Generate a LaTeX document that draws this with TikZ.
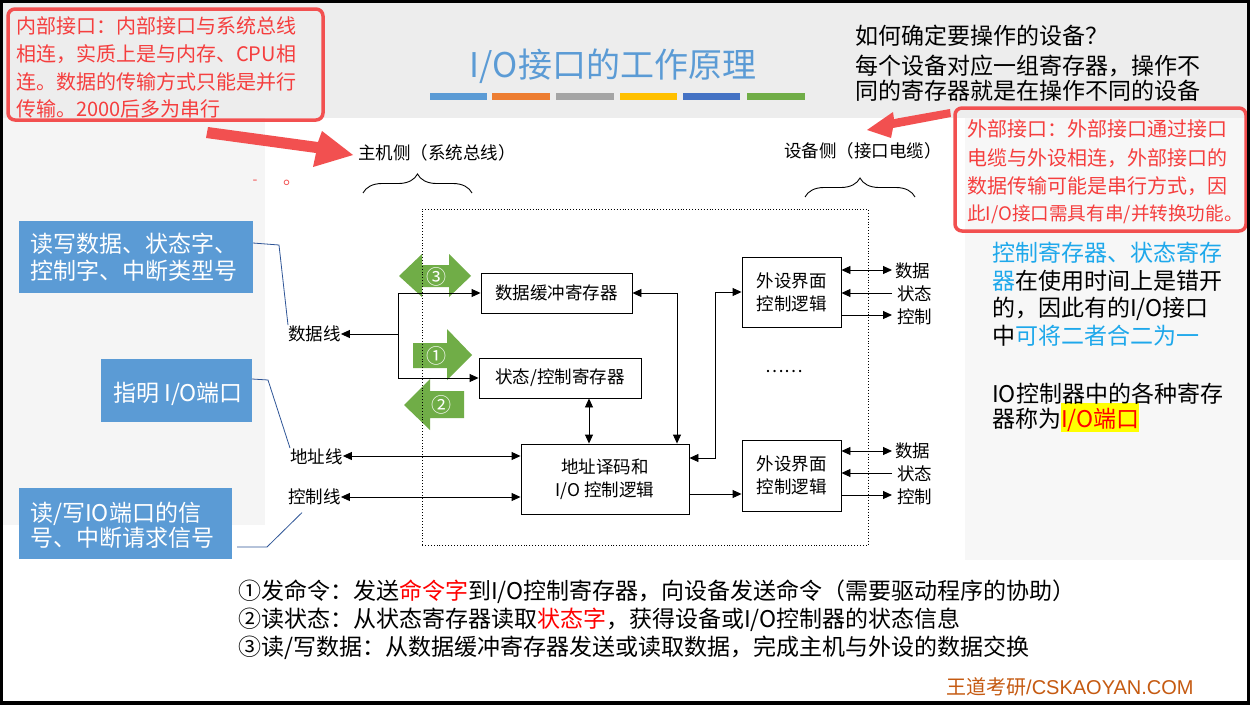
\documentclass[tikz,border=0pt]{standalone}
\usepackage{fontspec}
\setmainfont{Noto Sans CJK SC}
\newfontfamily\brandlatin{Liberation Sans}
\usetikzlibrary{arrows.meta,decorations.pathreplacing,calc}
\definecolor{redA}{RGB}{242,80,80}
\definecolor{redT}{RGB}{245,62,62}
\definecolor{titleblue}{RGB}{91,155,213}
\definecolor{cyanT}{RGB}{30,168,235}
\definecolor{greenA}{RGB}{112,173,71}
\definecolor{calloutblue}{RGB}{91,155,213}
\definecolor{leadline}{RGB}{47,85,151}
\definecolor{brownT}{RGB}{197,90,17}
\definecolor{barA}{RGB}{91,155,213}
\definecolor{barB}{RGB}{237,125,49}
\definecolor{barC}{RGB}{165,165,165}
\definecolor{barD}{RGB}{255,192,0}
\definecolor{barE}{RGB}{68,114,196}
\definecolor{barF}{RGB}{112,173,71}
\definecolor{hiyellow}{RGB}{255,255,0}
\begin{document}
\begin{tikzpicture}[x=1pt,y=-1pt,
  tipA/.tip={Triangle[length=9pt,width=8pt]},
  conn/.style={line width=0.9pt},
  arr/.style={conn,-tipA},
  darr/.style={conn,tipA-tipA},
  regbox/.style={draw,line width=0.9pt,fill=white,align=center,inner sep=0pt,
     font=\fontsize{17.5}{23}\selectfont},
  lbl/.style={anchor=base west,inner sep=0pt,font=\fontsize{17.5}{21}\selectfont},
  redtxt/.style={anchor=base west,inner sep=0pt,text=redT,font=\fontsize{20}{24}\selectfont},
  bigtxt/.style={anchor=base west,inner sep=0pt,font=\fontsize{23}{27}\selectfont},
  calltxt/.style={anchor=base west,inner sep=0pt,text=white,font=\fontsize{23}{27}\selectfont},
  callbox/.style={fill=calloutblue},
  redbox/.style={draw=redA,line width=3.5pt,rounded corners=7pt},
  redarrow/.style={fill=redA},
  greenarrow/.style={fill=greenA},
  greennum/.style={text=white,inner sep=0pt,font=\fontsize{20}{24}\selectfont},
  lead/.style={draw=leadline,line width=0.8pt},
  bracestyle/.style={decorate,decoration={brace,amplitude=19pt},line width=0.9pt}
]
\useasboundingbox (0,0) rectangle (1250,704);
% backgrounds
\fill[white] (0,0) rectangle (1250,704);
\fill[black!7] (0,0) rectangle (1250,118);
\fill[black!4] (0,118) rectangle (265,525);
\fill[black!3] (965,118) rectangle (1250,560);

% title and colour bars
\node[text=titleblue,inner sep=0pt,font=\fontsize{34}{40}\selectfont] (title) at (613,66) {I/O接口的工作原理};
\fill[barA] (430,93) rectangle (487,100);
\fill[barB] (492,93) rectangle (550,100);
\fill[barC] (556,93) rectangle (614,100);
\fill[barD] (620,93) rectangle (677,100);
\fill[barE] (683,93) rectangle (740,100);
\fill[barF] (747,93) rectangle (805,100);

% top-left red box
\draw[redbox] (8,9) rectangle (323,120);
\node[redtxt] (r1) at (16,33) {内部接口：内部接口与系统总线};
\node[redtxt] (r2) at (16,61) {相连，实质上是与内存、CPU相};
\node[redtxt] (r3) at (16,89) {连。数据的传输方式只能是并行};
\node[redtxt] (r4) at (16,116) {传输。2000后多为串行};
\fill[redarrow] (208,127) -- (318,142) -- (322,131) -- (353,155) -- (313,167) -- (316,153) -- (206,138) -- cycle;
\node[text=redA,inner sep=0pt,font=\fontsize{14}{16}\selectfont] (dash) at (255,182) {-};
\node[text=redA,inner sep=0pt,font=\fontsize{18}{20}\selectfont] (circ) at (292,183) {。};

% top-right question text
\node[bigtxt] (q1) at (855,44) {如何确定要操作的设备？};
\node[bigtxt] (q2) at (855,74) {每个设备对应一组寄存器，操作不};
\node[bigtxt] (q3) at (855,99) {同的寄存器就是在操作不同的设备};

% right red box
\draw[redbox] (955,108) rectangle (1246,231);
\node[redtxt] (e1) at (967,136) {外部接口：外部接口通过接口};
\node[redtxt] (e2) at (967,165) {电缆与外设相连，外部接口的};
\node[redtxt] (e3) at (967,193) {数据传输可能是串行方式，因};
\node[redtxt,font=\fontsize{18.6}{22}\selectfont] (e4) at (967,220) {此I/O接口需具有串/并转换功能。};
\fill[redarrow] (950,109) -- (894,119) -- (893,112) -- (867,130) -- (891,138) -- (893,128) -- (951,117) -- cycle;

% right explanatory text
\fill[hiyellow] (1061,403) rectangle (1139,432);
\node[bigtxt,text=cyanT] (s1) at (992,261) {控制寄存器、状态寄存};
\node[bigtxt] (s2) at (992,289) {\textcolor{cyanT}{器}在使用时间上是错开};
\node[bigtxt] (s3) at (992,316) {的，因此有的I/O接口};
\node[bigtxt] (s4) at (992,344) {中\textcolor{cyanT}{可将二者合二为一}};
\node[bigtxt] (s5) at (992,402) {IO控制器中的各种寄存};
\node[bigtxt] (s6) at (992,427) {器称为\textcolor{red}{I/O端口}};

% blue callouts
\fill[callbox] (19,221) rectangle (253,293);
\node[calltxt] (a1) at (30,252) {读写数据、状态字、};
\node[calltxt] (a2) at (30,279) {控制字、中断类型号};
\fill[callbox] (101,359) rectangle (252,422);
\node[calltxt] (b1) at (113,401) {指明 I/O端口};
\fill[callbox] (19,488) rectangle (232,559);
\node[calltxt] (c1) at (30,521) {读/写IO端口的信};
\node[calltxt] (c2) at (30,546) {号、中断请求信号};

% green operation arrows
\fill[greenarrow] (399,276) -- (422,254) -- (422,265) -- (449,265) -- (449,254) -- (471,276) -- (449,297) -- (449,287) -- (422,287) -- (422,297) -- cycle;
\fill[greenarrow] (413,343) -- (447,343) -- (447,329) -- (472,355) -- (447,380) -- (447,368) -- (413,368) -- cycle;
\fill[greenarrow] (464,391) -- (430,391) -- (430,379) -- (404,405) -- (430,430) -- (430,418) -- (464,418) -- cycle;
\node[greennum] (g3) at (436,277) {③};
\node[greennum] (g1) at (436,356) {①};
\node[greennum] (g2) at (441,405) {②};

% diagram frame
\draw[dotted,line width=0.9pt] (422,545) -- (422,209) -- (868,209) -- (868,545) -- cycle;
\node[lbl] (host) at (358,159) {主机侧（系统总线）};
\node[lbl] (dev) at (784,157) {设备侧（接口电缆）};
\draw[bracestyle] (363,193) -- (472,193);
\draw[bracestyle] (805,197) -- (915,197);

% register boxes
\node[regbox,minimum width=151pt,minimum height=40pt] (buf) at (556.5,293) {数据缓冲寄存器};
\node[regbox,minimum width=162pt,minimum height=40pt] (stat) at (560,378) {状态/控制寄存器};
\node[regbox,minimum width=168pt,minimum height=70pt] (dec) at (605,479) {地址译码和\\I/O 控制逻辑};
\node[regbox,minimum width=99pt,minimum height=70pt] (dev1) at (791.5,292) {外设界面\\控制逻辑};
\node[regbox,minimum width=99pt,minimum height=71pt] (dev2) at (791.5,475.5) {外设界面\\控制逻辑};
\node[inner sep=0pt,font=\fontsize{17.5}{21}\selectfont] (dots) at (784,372) {……};

% host-side labels
\node[lbl] (dline) at (288,340) {数据线};
\node[lbl] (aline) at (290,463) {地址线};
\node[lbl] (cline) at (288,503) {控制线};

% data bus
\coordinate (busT) at (398,293);
\coordinate (busM) at (398,334);
\coordinate (busB) at (398,378);
\draw[conn] (busT) -- (busB);
\draw[arr] (busT) -- (buf.west);
\draw[arr] (busB) -- (stat.west);
\draw[arr] (busM) -- (dline.east |- busM);
% address / control lines
\coordinate (ya) at (0,456);
\coordinate (yc) at (0,497);
\draw[darr] (aline.east |- ya) -- (dec.west |- ya);
\draw[darr] (cline.east |- yc) -- (dec.west |- yc);
% internal connections
\coordinate (v1) at (589,0);
\draw[darr] (v1 |- stat.south) -- (v1 |- dec.north);
\coordinate (v2) at (677,0);
\draw[darr] (buf.east) -| (v2 |- dec.north);
\coordinate (h1) at (0,458);
\coordinate (v3) at (715,0);
\draw[darr] (dec.east |- h1) -- (v3 |- h1) |- (dev1.west);
\coordinate (h2) at (0,494);
\draw[arr] (dec.east |- h2) -- (dev2.west |- h2);

% device-side signals, top
\node[lbl] (d1) at (895,277) {数据};
\node[lbl] (s1l) at (897,300) {状态};
\node[lbl] (k1) at (897,323) {控制};
\coordinate (t1) at (0,270);
\coordinate (t2) at (0,293);
\coordinate (t3) at (0,315);
\draw[darr] (dev1.east |- t1) -- ($(d1.west |- t1)+(-3,0)$);
\draw[arr] ($(s1l.west |- t2)+(-5,0)$) -- (dev1.east |- t2);
\draw[arr] (dev1.east |- t3) -- ($(k1.west |- t3)+(-5,0)$);
% device-side signals, bottom
\node[lbl] (d2) at (895,457) {数据};
\node[lbl] (s2l) at (897,480) {状态};
\node[lbl] (k2) at (897,503) {控制};
\coordinate (u1) at (0,451);
\coordinate (u2) at (0,473);
\coordinate (u3) at (0,495);
\draw[darr] (dev2.east |- u1) -- ($(d2.west |- u1)+(-3,0)$);
\draw[arr] ($(s2l.west |- u2)+(-5,0)$) -- (dev2.east |- u2);
\draw[arr] (dev2.east |- u3) -- ($(k2.west |- u3)+(-5,0)$);

% callout leader lines
\coordinate (la) at (279,245);
\coordinate (lb) at (268,380);
\coordinate (lc) at (267,547);
\draw[lead] (253,243) -- (la) -- (dline.north west);
\draw[lead] (252,379) -- (lb) -- (aline.north west);
\draw[lead] (237,547) -- (lc) -- ($(cline.south west)+(14,8)$);

% bottom explanation
\node[bigtxt] (n1) at (238,599) {①发命令：发送\textcolor{red}{命令字}到I/O控制寄存器，向设备发送命令（需要驱动程序的协助）};
\node[bigtxt] (n2) at (238,627) {②读状态：从状态寄存器读取\textcolor{red}{状态字}，获得设备或I/O控制器的状态信息};
\node[bigtxt] (n3) at (238,655) {③读/写数据：从数据缓冲寄存器发送或读取数据，完成主机与外设的数据交换};
\node[anchor=base west,inner sep=0pt,text=brownT,font=\fontsize{20}{23}\selectfont] (brand) at (946,694) {王道考研{\brandlatin /CSKAOYAN.COM}};

% outer frame
\draw[black,line width=4pt] (1,1) rectangle (1249,703);
\end{tikzpicture}
\end{document}
